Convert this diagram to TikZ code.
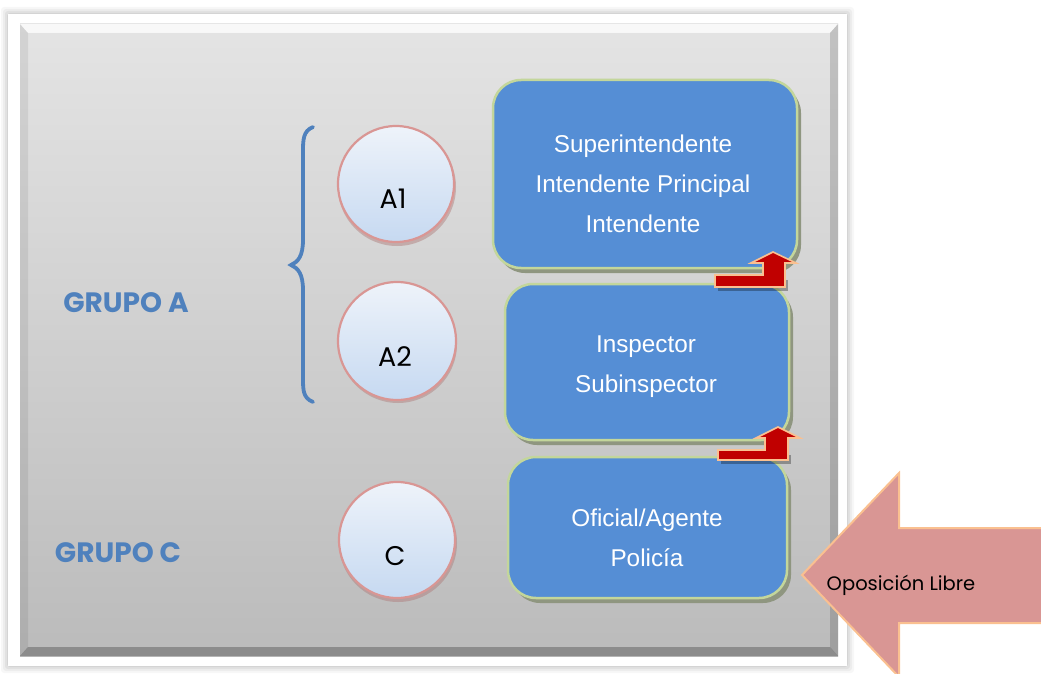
\documentclass[tikz,border=0pt]{standalone}
\usepackage{fontspec}
\setmainfont{Liberation Sans}
\newfontfamily\geo{Poppins}
\definecolor{boxblue}{HTML}{558ED5}
\definecolor{boxline}{HTML}{C3D69B}
\definecolor{boxshadow}{HTML}{8F9680}
\definecolor{grpblue}{HTML}{4F81BD}
\definecolor{circtop}{HTML}{EEF3FA}
\definecolor{circbot}{HTML}{C6D9F1}
\definecolor{circline}{HTML}{D99694}
\definecolor{redfill}{HTML}{C00000}
\definecolor{peach}{HTML}{FAC090}
\definecolor{pinkfill}{HTML}{D99694}
\definecolor{panTop}{HTML}{E4E4E4}
\definecolor{panBot}{HTML}{BBBBBB}
\tikzset{
  rankbox/.style={draw=boxline, line width=2.5pt, fill=boxblue, rounded corners=28pt, inner sep=0pt},
  rankshadow/.style={fill=boxshadow, rounded corners=28pt},
  boxtext/.style={text=white, align=center, font=\fontsize{24.3}{40}\selectfont, inner sep=0pt},
  circ/.style={circle, draw=circline, line width=2.2pt, top color=circtop, bottom color=circbot, inner sep=0pt},
  circtext/.style={font=\geo\fontsize{27}{30}\selectfont, inner sep=0pt},
  grp/.style={text=grpblue, font=\geo\bfseries\fontsize{28}{32}\selectfont, inner sep=0pt},
  upar/.style={fill=redfill, draw=peach, line width=1.6pt, line join=miter},
}
\begin{document}
\begin{tikzpicture}[x=1pt,y=-1pt]
\useasboundingbox (0,0) rectangle (1041,674);
\clip (0,0) rectangle (1041,674);
% panel with soft shadow
\foreach \i/\o in {7/0.03,5/0.04,3/0.05,1/0.06}
  \fill[black,opacity=\o,rounded corners=3pt] (8-\i,14-\i) rectangle (847+\i,666+\i);
\fill[white] (8,14) rectangle (847,666);
\shade[top color=panTop,bottom color=panBot] (20,24) rectangle (838,656);
\fill[white,opacity=.75] (20,24) -- (838,24) -- (830,33) -- (28,33) -- cycle;
\fill[black,opacity=.07] (20,24) -- (28,33) -- (28,647) -- (20,656) -- cycle;
\fill[black,opacity=.15] (838,24) -- (830,33) -- (830,647) -- (838,656) -- cycle;
\fill[black,opacity=.25] (20,656) -- (28,647) -- (830,647) -- (838,656) -- cycle;

% group labels
\node[grp] (ga) at (126,303) {GRUPO A};
\node[grp] (gc) at (118,553) {GRUPO C};

% brace
\draw[grpblue, line width=3.8pt, line cap=round]
  (313,127) .. controls (303,131) and (303,140) .. (303,152)
  -- (303,240) .. controls (303,256) and (298,262) .. (291,265)
  .. controls (298,268) and (303,274) .. (303,290)
  -- (303,378) .. controls (303,390) and (303,398) .. (313,402);

% circles
\foreach \n/\cx/\cy in {a1/396/184, a2/397/341, c/397/540}
  \fill[circline!80!black, opacity=.45] (\cx+1,\cy+3) circle (59);
\node[circ, minimum size=116pt] (a1) at (396,184) {};
\node[circ, minimum size=118pt] (a2) at (397,341) {};
\node[circ, minimum size=116pt] (c) at (397,540) {};
\node[circtext] (a1t) at (393,199) {A1};
\node[circtext] (a2t) at (395,357) {A2};
\node[circtext] (ct) at (395,556) {C};

% rank boxes
\fill[rankshadow] (497,85) rectangle (801,273);
\fill[rankshadow] (509,289) rectangle (793,445);
\fill[rankshadow] (512,462) rectangle (791,603);
\node[rankbox, minimum width=304pt, minimum height=188pt] (b1) at (645,174) {};
\node[rankbox, minimum width=284pt, minimum height=156pt] (b2) at (647,362) {};
\node[rankbox, minimum width=279pt, minimum height=141pt] (b3) at (647.5,527.5) {};
\node[boxtext] (b1t) at (643,184) {Superintendente\\Intendente Principal\\Intendente};
\node[boxtext] (b2t) at (646,366.5) {Inspector\\Subinspector};
\node[boxtext] (b3t) at (647,538) {Oficial/Agente\\Policía};

% bent-up promotion arrows
\fill[black,opacity=.3] (718,280) -- (788,280) -- (788,291) -- (718,291) -- cycle;
\draw[upar] (715,275) -- (763,275) -- (763,263) -- (751,263) -- (773,252) -- (796,263) -- (785,263) -- (785,287) -- (715,287) -- cycle;
\fill[black,opacity=.3] (721,455) -- (791,455) -- (791,464) -- (721,464) -- cycle;
\draw[upar] (718,450) -- (765,450) -- (765,438) -- (756,438) -- (778,427) -- (800,438) -- (788,438) -- (788,460) -- (718,460) -- cycle;

% open competition arrow
\draw[fill=pinkfill, draw=peach, line width=2pt, line join=miter]
  (802,575) -- (899,473) -- (899,528) -- (1050,528) -- (1050,623) -- (899,623) -- (899,677) -- cycle;
\node[font=\geo\fontsize{19.5}{22}\selectfont, inner sep=0pt] (ol) at (901,585) {Oposición Libre};
\end{tikzpicture}
\end{document}
